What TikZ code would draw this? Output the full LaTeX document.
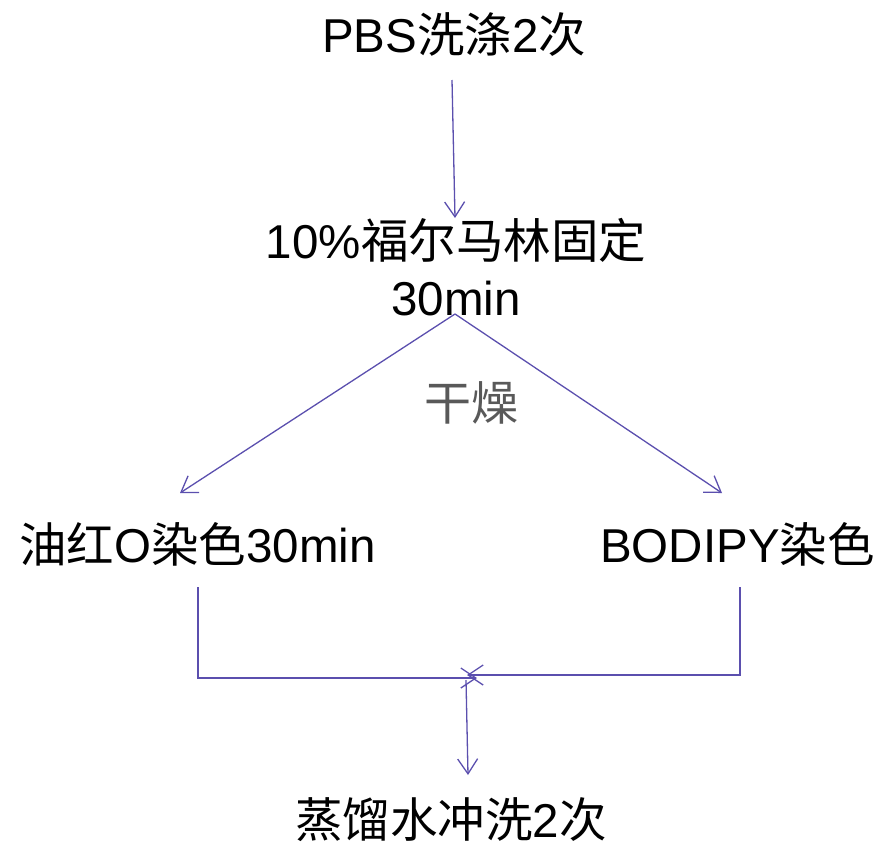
\documentclass[tikz,border=0pt]{standalone}
\usepackage{fontspec}
\setmainfont{Liberation Sans}
\newfontfamily\cjk{Noto Sans CJK SC}
\usetikzlibrary{arrows.meta}
\definecolor{lineblue}{HTML}{5B4FAE}
\definecolor{labelgray}{HTML}{595959}
\tikzset{
  lbl/.style={inner sep=0pt, anchor=base, font=\fontsize{47.5}{57}\selectfont, text=black},
  drylbl/.style={inner sep=0pt, anchor=base, font=\fontsize{47}{57}\selectfont, text=labelgray},
  flow/.style={draw=lineblue, line width=1.3pt, -{Straight Barb[length=15pt,width=20pt]}},
}
\begin{document}
\begin{tikzpicture}[x=1pt,y=-1pt]
\useasboundingbox (0,0) rectangle (874,846);
% texts
\node[lbl] (pbs) at (454,52) {PBS{\cjk 洗涤}2{\cjk 次}};
\node[lbl, align=center] (fix) at (456,315) {10\%{\cjk 福尔马林固定}\\30min};
\node[drylbl] (dry) at (471.5,420) {\cjk 干燥};
\node[lbl] (oro) at (197.5,562) {{\cjk 油红}O{\cjk 染色}30min};
\node[lbl] (bod) at (737.5,562) {BODIPY{\cjk 染色}};
\node[lbl] (wash) at (451,837) {{\cjk 蒸馏水冲洗}2{\cjk 次}};
% connector end points
\coordinate (c1s) at (452,80);
\coordinate (c1e) at (455,218);
\coordinate (c2s) at (455,314);
\coordinate (c2l) at (180,493);
\coordinate (c2r) at (722,493);
\coordinate (l1) at (198,587);
\coordinate (l2) at (198,678);
\coordinate (l3) at (477,678);
\coordinate (r1) at (740,587);
\coordinate (r2) at (740,675);
\coordinate (r3) at (467,675);
\coordinate (d1) at (466,680);
\coordinate (d2) at (468,775);
% connectors
\draw[flow] (c1s) -- (c1e);
\draw[flow] (c2s) -- (c2l);
\draw[flow] (c2s) -- (c2r);
\draw[flow] (l1) -- (l2) -- (l3);
\draw[flow] (r1) -- (r2) -- (r3);
\draw[flow] (d1) -- (d2);
\end{tikzpicture}
\end{document}
